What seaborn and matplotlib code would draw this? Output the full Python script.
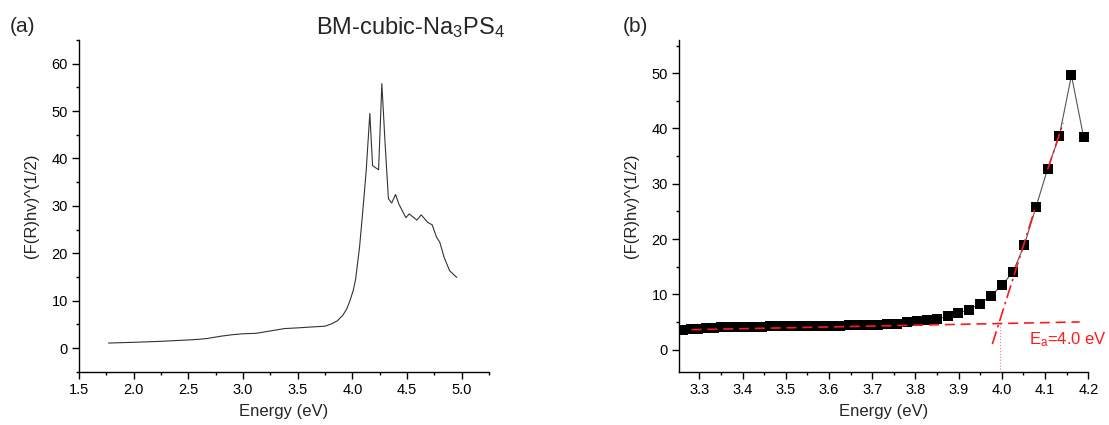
import matplotlib
matplotlib.use("Agg")
import matplotlib.pyplot as plt
from matplotlib.ticker import MultipleLocator
import numpy as np
import pandas as pd
import seaborn as sns

# ---------------- data: panel (a) ----------------
energy_a = [1.77, 2.00, 2.24, 2.50, 2.60, 2.67, 2.80, 2.90, 3.00, 3.12, 3.25, 3.38,
            3.50, 3.60, 3.71, 3.75, 3.81, 3.86, 3.91, 3.95, 3.98, 4.01, 4.03, 4.066,
            4.096, 4.127, 4.16, 4.185, 4.24, 4.27, 4.30, 4.33, 4.36, 4.395, 4.425,
            4.456, 4.49, 4.52, 4.59, 4.63, 4.69, 4.73, 4.77, 4.80, 4.84, 4.89, 4.955]
signal_a = [1.05, 1.2, 1.4, 1.7, 1.85, 2.0, 2.5, 2.8, 3.0, 3.1, 3.6, 4.1,
            4.25, 4.4, 4.55, 4.6, 5.1, 5.7, 6.8, 8.3, 10.1, 12.3, 14.5, 21.3,
            29.0, 37.5, 49.5, 38.5, 37.6, 55.8, 43.0, 31.5, 30.6, 32.4, 30.4,
            29.0, 27.5, 28.3, 27.0, 28.1, 26.5, 26.0, 23.4, 22.3, 19.1, 16.3, 14.9]

# ---------------- data: panel (b) ----------------
energy_b = [3.263, 3.280, 3.298, 3.316, 3.333, 3.351, 3.370, 3.388, 3.407, 3.425,
            3.444, 3.464, 3.483, 3.503, 3.523, 3.543, 3.563, 3.584, 3.605, 3.626,
            3.647, 3.669, 3.690, 3.713, 3.735, 3.758, 3.780, 3.804, 3.827, 3.851,
            3.875, 3.899, 3.924, 3.949, 3.974, 4.000, 4.026, 4.052, 4.079, 4.106,
            4.133, 4.161, 4.189]
signal_b = [3.6, 3.7, 3.8, 3.85, 3.9, 4.0, 4.0, 4.05, 4.1, 4.1,
            4.15, 4.2, 4.2, 4.2, 4.25, 4.25, 4.3, 4.3, 4.35, 4.35,
            4.4, 4.4, 4.45, 4.5, 4.6, 4.7, 4.9, 5.1, 5.3, 5.6,
            6.0, 6.6, 7.2, 8.3, 9.7, 11.6, 14.1, 18.9, 25.8, 32.7,
            38.7, 49.6, 38.5]

# baseline fit (dashed) and edge fit (dash-dot, two visible pieces)
base_fit_x = [3.282, 4.18]
base_fit_y = [3.6, 5.0]
edge_fit1_x = [3.978, 4.078]
edge_fit1_y = [1.0, 25.8]
edge_fit2_x = [4.106, 4.142]
edge_fit2_y = [32.6, 41.0]
gap_x = [3.995, 3.995]
gap_y = [-4.0, 4.8]
gap_label = r"E$_\mathrm{a}$=4.0 eV"
gap_label_pos = (4.062, 0.9)

xticks_a = [1.5, 2.0, 2.5, 3.0, 3.5, 4.0, 4.5, 5.0]
yticks_a = [0, 10, 20, 30, 40, 50, 60]
xticks_b = [3.3, 3.4, 3.5, 3.6, 3.7, 3.8, 3.9, 4.0, 4.1, 4.2]
yticks_b = [0, 10, 20, 30, 40, 50]

title_text = r"BM-cubic-Na$_3$PS$_4$"
xlabel_text = "Energy (eV)"
ylabel_text = "(F(R)hv)^(1/2)"

# ---------------- style ----------------
sns.set_theme(style="ticks")
plt.rcParams["font.family"] = ["Liberation Sans", "DejaVu Sans"]
plt.rcParams["mathtext.fontset"] = "custom"
plt.rcParams["mathtext.rm"] = "Liberation Sans"
plt.rcParams["mathtext.it"] = "Liberation Sans:italic"
plt.rcParams["mathtext.bf"] = "Liberation Sans:bold"
plt.rcParams["axes.linewidth"] = 1.0
plt.rcParams["axes.edgecolor"] = "black"

df_a = pd.DataFrame({"E": energy_a, "S": signal_a})
df_b = pd.DataFrame({"E": energy_b, "S": signal_b})

fig = plt.figure(figsize=(11.09, 4.25), dpi=100)
W, H = 1109.0, 425.0
bottom = (H - 371.7) / H
height = 331.7 / H
ax1 = fig.add_axes([79 / W, bottom, 410 / W, height])
ax2 = fig.add_axes([679 / W, bottom, 409.3 / W, height])

# panel (a)
sns.lineplot(data=df_a, x="E", y="S", ax=ax1, color="#333333", lw=0.8, sort=False)
ax1.set_xlim(1.5, 5.25)
ax1.set_ylim(-5, 65)
ax1.set_xticks(xticks_a)
ax1.set_xticklabels([f"{v:.1f}" for v in xticks_a])
ax1.set_yticks(yticks_a)
ax1.xaxis.set_minor_locator(MultipleLocator(0.25))
ax1.yaxis.set_minor_locator(MultipleLocator(5))

# panel (b)
sns.lineplot(data=df_b, x="E", y="S", ax=ax2, color="#555555", lw=0.8, sort=False, zorder=2)
sns.scatterplot(data=df_b, x="E", y="S", ax=ax2, marker="s", s=44, color="black",
                edgecolor="black", linewidth=0, zorder=3)
ax2.plot(base_fit_x, base_fit_y, color="#ff1a1a", lw=1.2, ls=(0, (6, 3.5)), zorder=4)
ax2.plot(edge_fit1_x, edge_fit1_y, color="#ff1a1a", lw=1.2, ls=(0, (8, 2.5, 1.5, 2.5)), zorder=4)
ax2.plot(edge_fit2_x, edge_fit2_y, color="#ff1a1a", lw=1.2, ls=(0, (8, 2.5, 1.5, 2.5)), zorder=4)
ax2.plot(gap_x, gap_y, color="#ff7777", lw=0.8, ls=":", zorder=4, clip_on=False)
ax2.text(gap_label_pos[0], gap_label_pos[1], gap_label, color="#ff1a1a", fontsize=12,
         ha="left", va="baseline", clip_on=False)
ax2.set_xlim(3.253, 4.2)
ax2.set_ylim(-4, 56)
ax2.set_xticks(xticks_b)
ax2.set_xticklabels([f"{v:.1f}" for v in xticks_b])
ax2.set_yticks(yticks_b)
ax2.xaxis.set_minor_locator(MultipleLocator(0.05))
ax2.yaxis.set_minor_locator(MultipleLocator(5))

for ax in (ax1, ax2):
    sns.despine(ax=ax)
    ax.tick_params(which="major", direction="out", length=5, width=1.0, labelsize=10.5,
                   colors="black", pad=3)
    ax.tick_params(which="minor", direction="out", length=2.5, width=1.0, colors="black")
    ax.set_xlabel(xlabel_text, fontsize=12, labelpad=5)
    ax.set_ylabel(ylabel_text, fontsize=12, labelpad=9)

fig.text(411 / W, 1 - 34 / H, title_text, ha="center", va="baseline", fontsize=17)
fig.text(10 / W, 1 - 26 / H, "(a)", ha="left", va="center", fontsize=15)
fig.text(623 / W, 1 - 26 / H, "(b)", ha="left", va="center", fontsize=15)

fig.savefig("out.png", dpi=100)
